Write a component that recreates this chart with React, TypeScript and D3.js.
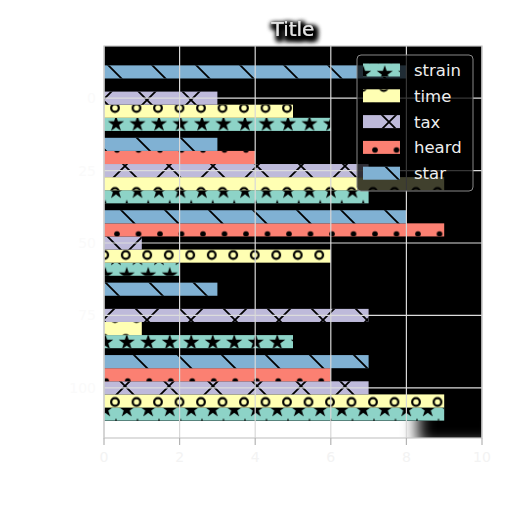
import React from "react";
import * as d3 from "d3";

const categories = ["0", "25", "50", "75", "100"]; // top to bottom
const seriesNames = ["strain", "time", "tax", "heard", "star"];
const strain = [6, 7, 2, 5, 9];
const time = [5, 9, 6, 1, 9];
const tax = [3, 7, 1, 7, 7];
const heard = [0, 4, 9, 0, 6];
const star = [8, 3, 8, 3, 7];
const xTicks = [0, 2, 4, 6, 8, 10];

const seriesValues: Record<string, number[]> = { strain, time, tax, heard, star };
const colors: Record<string, string> = {
  strain: "#8dd3c7",
  time: "#ffffb3",
  tax: "#bebada",
  heard: "#fb8072",
  star: "#80b1d3",
};

const W = 512, H = 512;
const L = 104, R = 482, T = 46, B = 440;

export default function App() {
  const x = d3.scaleLinear().domain([0, 10]).range([L, R]);
  const y = d3.scaleBand<string>().domain(categories).range([T, B]).paddingInner(0).paddingOuter(0.22);
  const bh = y.bandwidth() * 0.181;
  const starPath = d3.symbol(d3.symbolStar, 80)() as string;

  const barY = (cat: string, k: number) => (y(cat) as number) + y.bandwidth() / 2 + (2 - k) * bh - bh / 2;

  const legendRows = seriesNames.map((s, i) => ({ s, cy: 70 + i * 25.8 }));

  return (
    <svg width={W} height={H} style={{ position: "absolute", left: 0, top: 0, fontFamily: "DejaVu Sans, sans-serif" }}>
      <defs>
        <clipPath id="axclip">
          <rect x={L} y={T} width={R - L} height={438 - T} />
        </clipPath>
        <filter id="blur4" x="-80%" y="-80%" width="260%" height="260%">
          <feGaussianBlur stdDeviation="8" />
        </filter>
        <filter id="tshadow" x="-50%" y="-80%" width="200%" height="260%">
          <feMorphology in="SourceAlpha" operator="dilate" radius="1.5" result="d" />
          <feGaussianBlur in="d" stdDeviation="2.5" result="b" />
          <feOffset in="b" dx="2" dy="3" result="o" />
          <feFlood floodColor="#000" floodOpacity="1" />
          <feComposite in2="o" operator="in" result="s" />
          <feMerge>
            <feMergeNode in="s" />
            <feMergeNode in="s" />
            <feMergeNode in="SourceGraphic" />
          </feMerge>
        </filter>
        <pattern id="h-star" patternUnits="userSpaceOnUse" x={43} y={0} width={44} height={44}>
          <path d="M-22,-22 L66,66 M-66,-22 L22,66 M22,-22 L110,66" stroke="#000" strokeWidth={1.8} />
        </pattern>
        <pattern id="h-tax" patternUnits="userSpaceOnUse" x={15} y={12} width={44} height={44}>
          <path d="M-22,-22 L66,66 M-66,-22 L22,66 M22,-22 L110,66 M-22,66 L66,-22 M-66,66 L22,-22 M22,66 L110,-22" stroke="#000" strokeWidth={1.8} />
        </pattern>
        <pattern id="h-time" patternUnits="userSpaceOnUse" x={104.25} y={97.5} width={21.5} height={42}>
          {[[10.75, 10.5], [0, 31.5], [21.5, 31.5], [10.75, 52.5], [10.75, -31.5]].map(([cx, cy], i) => (
            <circle key={i} cx={cx} cy={cy} r={3.8} fill="none" stroke="#000" strokeWidth={2.2} />
          ))}
        </pattern>
        <pattern id="h-heard" patternUnits="userSpaceOnUse" x={106.25} y={139.5} width={21.5} height={42}>
          {[[10.75, 10.5], [0, 31.5], [21.5, 31.5]].map(([cx, cy], i) => (
            <circle key={i} cx={cx} cy={cy} r={2.8} fill="#000" />
          ))}
        </pattern>
        <pattern id="h-strain" patternUnits="userSpaceOnUse" x={105.25} y={115.6} width={21.5} height={33.6}>
          {[[10.75, 8.4], [0, 25.2], [21.5, 25.2], [10.75, 42], [0, -8.4], [21.5, -8.4]].map(([cx, cy], i) => (
            <path key={i} d={starPath} transform={`translate(${cx},${cy})`} fill="#000" />
          ))}
        </pattern>
      </defs>

      <rect x={0} y={0} width={W} height={H} fill="#fff" />
      {/* corner shadow */}
      <g clipPath="url(#axclip)">
        <rect x={418} y={402} width={80} height={44} fill="#000" filter="url(#blur4)" />
      </g>
      {/* axes background */}
      <rect x={L} y={T} width={R - L} height={421 - T} fill="#000" />

      {/* bars */}
      {seriesNames.map((s, k) =>
        categories.map((c, i) => {
          const v = seriesValues[s][i];
          if (!v) return null;
          const yy = barY(c, k);
          return (
            <g key={s + c}>
              <rect x={x(0)} y={yy} width={x(v) - x(0)} height={bh} fill={colors[s]} />
              <rect x={x(0)} y={yy} width={x(v) - x(0)} height={bh} fill={`url(#h-${s})`} />
            </g>
          );
        })
      )}

      {/* grid */}
      {xTicks.map((t) => (
        <line key={"gx" + t} x1={x(t)} x2={x(t)} y1={T} y2={438} stroke="#d8d8d8" strokeWidth={1.2} />
      ))}
      {categories.map((c) => {
        const cy = (y(c) as number) + y.bandwidth() / 2;
        return <line key={"gy" + c} x1={L} x2={R} y1={cy} y2={cy} stroke="#dcdcdc" strokeWidth={1.2} />;
      })}

      {/* spines */}
      <rect x={L} y={T} width={R - L} height={438 - T} fill="none" stroke="#c8c8c8" strokeWidth={1.2} />

      {/* x ticks */}
      {xTicks.map((t) => (
        <g key={"xt" + t}>
          <line x1={x(t)} x2={x(t)} y1={438} y2={445} stroke="#b4b4b4" strokeWidth={1.2} />
          <text x={x(t)} y={462} textAnchor="middle" fontSize={14} fill="#f3f3f3">{t}</text>
        </g>
      ))}
      {/* y tick labels */}
      {categories.map((c) => {
        const cy = (y(c) as number) + y.bandwidth() / 2;
        return (
          <text key={"yt" + c} x={96} y={cy + 5} textAnchor="end" fontSize={14} fill="#fafafa">{c}</text>
        );
      })}

      {/* title */}
      <text x={(L + R) / 2} y={36} textAnchor="middle" fontSize={20} fill="#e4e4e4" filter="url(#tshadow)">Title</text>

      {/* legend */}
      <rect x={357} y={55} width={116} height={136} rx={4} fill="#000" fillOpacity={0.75} stroke="#888" strokeWidth={1} />
      {legendRows.map(({ s, cy }) => (
        <g key={"lg" + s}>
          <rect x={363} y={cy - 6.5} width={37} height={13} fill={colors[s]} />
          <rect x={363} y={cy - 6.5} width={37} height={13} fill={`url(#h-${s})`} />
          <text x={414} y={cy + 6} fontSize={16.5} fill="#eeeeee">{s}</text>
        </g>
      ))}
    </svg>
  );
}
